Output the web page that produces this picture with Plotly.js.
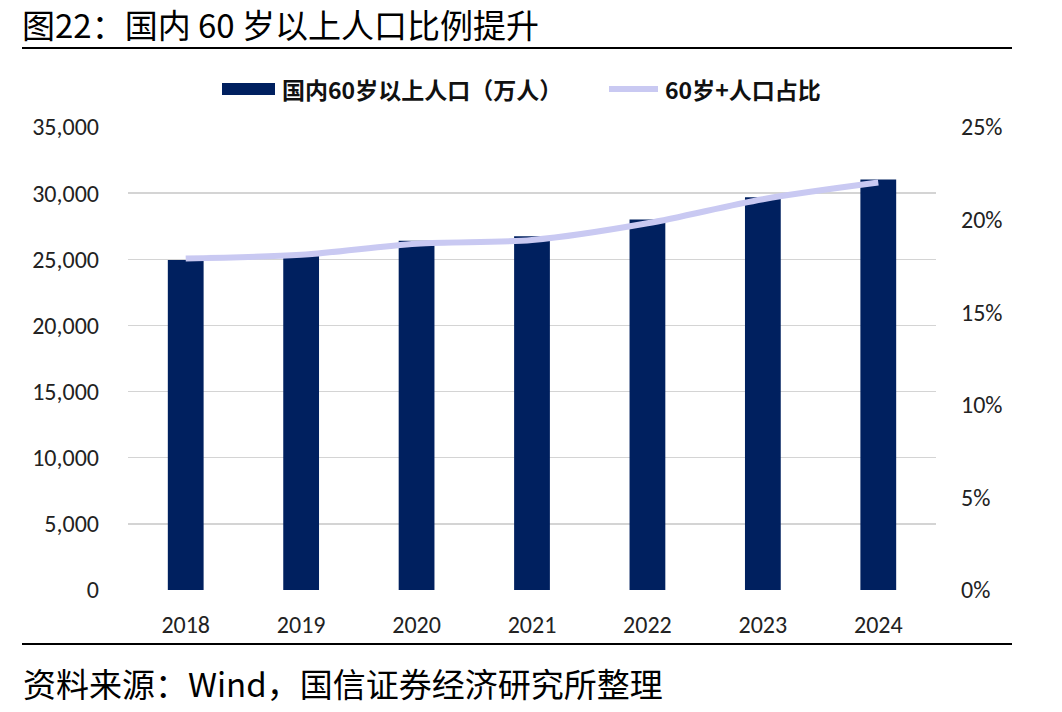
<!DOCTYPE html>
<html><head><meta charset="utf-8">
<script src="https://cdn.plot.ly/plotly-3.0.1.min.js"></script>
<style>body{margin:0;background:#fff}#c{width:1062px;height:712px}</style>
</head><body><div id="c"></div>
<script>
const years = ['2018','2019','2020','2021','2022','2023','2024'];
const pop60 = [24949, 25388, 26402, 26736, 28004, 29697, 31031];
const share60 = [0.179, 0.181, 0.187, 0.189, 0.198, 0.211, 0.220];
const barName = '国内60岁以上人口（万人）';
const lineName = '60岁+人口占比';
const titleText = '图22：国内 60 岁以上人口比例提升';
const sourceText = '资料来源：Wind，国信证券经济研究所整理';

const BAR_COLOR = '#00205F';
const LINE_COLOR = '#C9C9F2';
const cjk = '"Noto Sans CJK SC", "Noto Sans", sans-serif';
const tickFont = {family: 'Carlito, Lato, "Noto Sans", sans-serif', size: 24, color: '#222'};

// plot area in pixels: x 128..936, y 127..590
const PX0 = 128, PW = 808, PY1 = 590, PH = 463;
const px = v => (v - PX0) / PW;
const py = v => (PY1 - v) / PH;

const data = [
  {type:'bar', x: years, y: pop60, name: barName, marker:{color:BAR_COLOR}, width:0.31, yaxis:'y', showlegend:false},
  {type:'scatter', mode:'lines', x: years, y: share60, name: lineName, yaxis:'y2', showlegend:false,
   line:{color:LINE_COLOR, width:6, shape:'spline', smoothing:0.9}}
];

const layout = {
  width:1062, height:712,
  margin:{l:128, r:126, t:127, b:122},
  paper_bgcolor:'#fff', plot_bgcolor:'#fff',
  showlegend:false,
  xaxis:{type:'category', tickfont:tickFont, showgrid:false, zeroline:false, showline:false, ticks:'', ticklabelstandoff:18},
  yaxis:{range:[0,35000], dtick:5000, tickformat:',d', tickfont:tickFont, gridcolor:'#d4d4d4', gridwidth:1.5,
         zeroline:false, showline:false, ticks:'', ticklabelstandoff:28},
  yaxis2:{range:[0,0.25], dtick:0.05, tickformat:'.0%', overlaying:'y', side:'right', showgrid:false,
          tickfont:tickFont, zeroline:false, showline:false, ticks:'', ticklabelstandoff:24},
  shapes:[
    {type:'line', xref:'paper', yref:'paper', x0:px(22), x1:px(1012), y0:py(48), y1:py(48), line:{color:'#000', width:2}},
    {type:'line', xref:'paper', yref:'paper', x0:px(22), x1:px(1012), y0:py(644), y1:py(644), line:{color:'#000', width:2}},
    // legend swatches
    {type:'rect', xref:'paper', yref:'paper', x0:px(222), x1:px(275), y0:py(95), y1:py(83), fillcolor:BAR_COLOR, line:{width:0}},
    {type:'line', xref:'paper', yref:'paper', x0:px(609), x1:px(658), y0:py(89), y1:py(89), line:{color:LINE_COLOR, width:6}}
  ],
  annotations:[
    {xref:'paper', yref:'paper', x:px(21), y:py(24), xanchor:'left', yanchor:'middle', showarrow:false, borderpad:0,
     text:titleText, font:{family:cjk, size:33, color:'#000'}},
    {xref:'paper', yref:'paper', x:px(21), y:py(683), xanchor:'left', yanchor:'middle', showarrow:false,
     text:sourceText, font:{family:cjk, size:33, color:'#000'}},
    {xref:'paper', yref:'paper', x:px(280), y:py(89), xanchor:'left', yanchor:'middle', showarrow:false,
     text:barName, font:{family:cjk, size:23, color:'#111', weight:'bold'}},
    {xref:'paper', yref:'paper', x:px(663), y:py(89), xanchor:'left', yanchor:'middle', showarrow:false,
     text:lineName, font:{family:cjk, size:23, color:'#111', weight:'bold'}}
  ]
};
Plotly.newPlot('c', data, layout, {displayModeBar:false, staticPlot:true});
</script></body></html>
